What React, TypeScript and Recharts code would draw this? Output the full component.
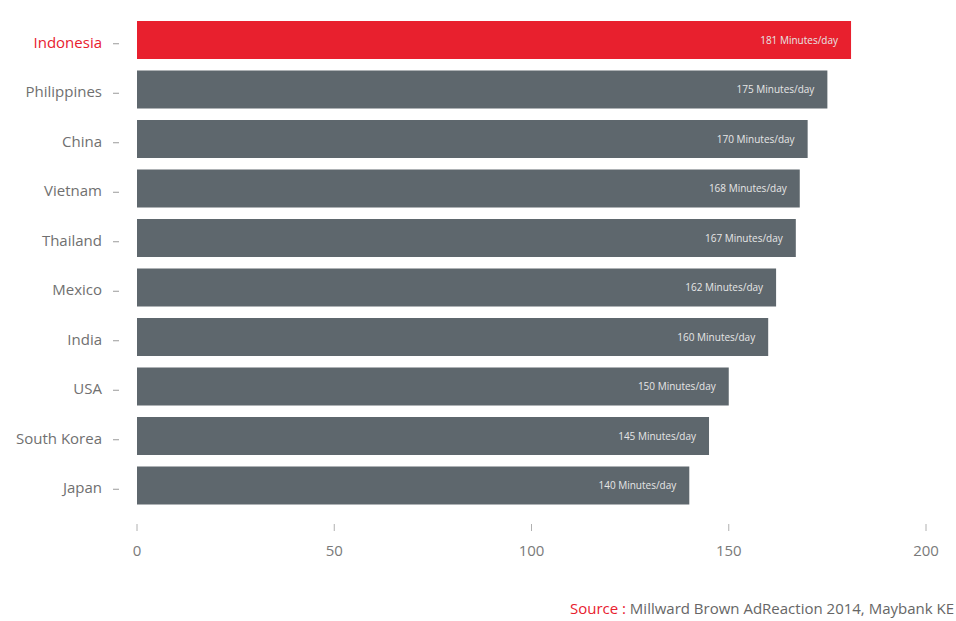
import React from "react";
import { BarChart, Bar, XAxis, YAxis, Cell, LabelList } from "recharts";

// minutes per day spent in front of screens, by country
const countries = ["Indonesia", "Philippines", "China", "Vietnam", "Thailand", "Mexico", "India", "USA", "South Korea", "Japan"];
const minutes = [181, 175, 170, 168, 167, 162, 160, 150, 145, 140];
const xTicks = [0, 50, 100, 150, 200];
const highlight = "Indonesia";

const data = countries.map((c, i) => ({ country: c, minutes: minutes[i] }));

const RED = "#e8202e";
const GREY = "#5e676d";
const FONT = "'Open Sans', 'Lato', sans-serif";

const CountryTick = (props: any) => {
  const { x, y, payload } = props;
  const isHi = payload.value === highlight;
  return (
    <g>
      <text x={x - 35} y={y} dy={8} textAnchor="end" fontSize={15} fontFamily={FONT} fill={isHi ? RED : "#707070"}>
        {payload.value}
      </text>
      <line x1={x - 24} x2={x - 18} y1={y + 4} y2={y + 4} stroke="#9a9a9a" strokeWidth={1} />
    </g>
  );
};

const ValueTick = (props: any) => {
  const { x, y, payload } = props;
  return (
    <g>
      <line x1={x} x2={x} y1={y + 14} y2={y + 21} stroke="#b0b0b0" strokeWidth={1} />
      <text x={x} y={y + 46} textAnchor="middle" fontSize={15} fontFamily={FONT} fill="#7a7a7a">
        {payload.value}
      </text>
    </g>
  );
};

export default function App() {
  return (
    <div style={{ position: "absolute", left: 0, top: 0, width: 956, height: 621, background: "#fff", fontFamily: FONT }}>
      <BarChart
        width={956}
        height={580}
        data={data}
        layout="vertical"
        margin={{ top: 15, right: 30, bottom: 20, left: 0 }}
      >
        <XAxis
          type="number"
          domain={[0, 200]}
          ticks={xTicks}
          axisLine={false}
          tickLine={false}
          tickSize={0}
          tickMargin={0}
          height={50}
          tick={<ValueTick />}
        />
        <YAxis
          type="category"
          dataKey="country"
          width={137}
          axisLine={false}
          tickLine={false}
          tickSize={0}
          tickMargin={0}
          tick={<CountryTick />}
        />
        <Bar dataKey="minutes" barSize={38} isAnimationActive={false}>
          {data.map((d) => (
            <Cell key={d.country} fill={d.country === highlight ? RED : GREY} />
          ))}
          <LabelList
            dataKey="minutes"
            position="insideRight"
            offset={13}
            formatter={(v: any) => `${v} Minutes/day`}
            fill="#e6e6e6"
            fontSize={10}
            fontFamily={FONT}
          />
        </Bar>
      </BarChart>
      <div style={{ position: "absolute", right: 2, top: 598, fontSize: 15, color: "#666", whiteSpace: "nowrap" }}>
        <span style={{ color: RED }}>Source : </span>Millward Brown AdReaction 2014, Maybank KE
      </div>
    </div>
  );
}
